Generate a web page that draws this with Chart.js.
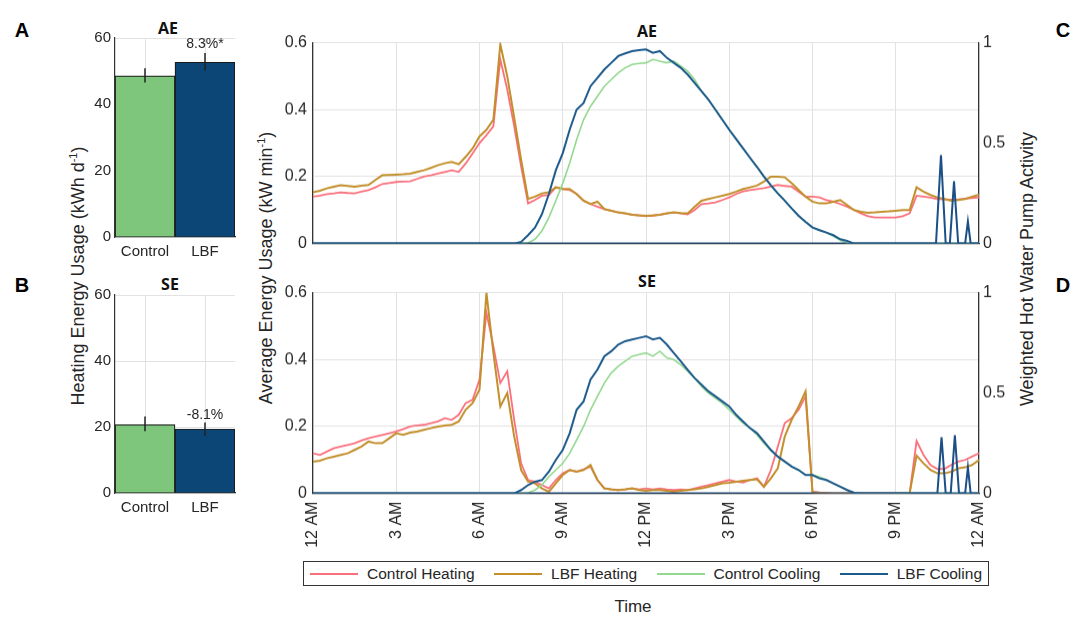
<!DOCTYPE html>
<html>
<head>
<meta charset="utf-8">
<script src="https://cdn.jsdelivr.net/npm/chart.js@4.4.0/dist/chart.umd.min.js"></script>
<style>
  body { margin: 0; background: #fff; width: 1072px; height: 619px; position: relative; overflow: hidden;
         font-family: 'Liberation Sans', Arial, sans-serif; color: #262626; }
  canvas { position: absolute; }
  .txt { position: absolute; white-space: nowrap; transform: translate(-50%, -50%); }
  .letter { font-size: 20px; font-weight: bold; color: #000; }
  .ttl { font-family: 'Open Sans', sans-serif; font-weight: bold; font-size: 16px; color: #111; }
  .vlab { font-size: 18px; transform: translate(-50%, -50%) rotate(-90deg); }
  .vlab sup { font-size: 11px; }
  #legend { position: absolute; left: 303px; top: 561px; width: 686px; height: 25px; border: 1.5px solid #333;
            display: flex; align-items: center; justify-content: space-between; padding: 0 6px 0 6px;
            box-sizing: border-box; font-size: 15.5px; }
  #legend .item { display: flex; align-items: center; }
  #legend .swatch { width: 48px; height: 0; border-top: 2px solid; margin-right: 9px; }
</style>
</head>
<body>
<div class="txt letter" style="left:22px;top:30px">A</div>
<div class="txt letter" style="left:22px;top:285px">B</div>
<div class="txt letter" style="left:1063px;top:30px">C</div>
<div class="txt letter" style="left:1063px;top:285px">D</div>
<div class="txt ttl" style="left:168px;top:28px">AE</div>
<div class="txt ttl" style="left:170px;top:284px">SE</div>
<div class="txt ttl" style="left:647px;top:31px">AE</div>
<div class="txt ttl" style="left:647px;top:281px">SE</div>
<div class="txt vlab" style="left:78px;top:276px">Heating Energy Usage (kWh d<sup>-1</sup>)</div>
<div class="txt vlab" style="left:266px;top:268px">Average Energy Usage (kW min<sup>-1</sup>)</div>
<div class="txt vlab" style="left:1027px;top:269px">Weighted Hot Water Pump Activity</div>
<div class="txt" style="left:633px;top:607px;font-size:17px">Time</div>

<canvas id="barAE" width="165" height="231" style="left:75px;top:28px"></canvas>
<canvas id="barSE" width="165" height="230" style="left:75px;top:285px"></canvas>
<canvas id="lineAE" width="752" height="220" style="left:270px;top:33px"></canvas>
<canvas id="lineSE" width="752" height="270" style="left:270px;top:283px"></canvas>
<div id="legend"></div>

<script>
// ---- bar panels (A, B) ----
const barCats = ['Control', 'LBF'];
const barTicks = [0, 20, 40, 60];

const aeBars = [48.6, 52.7];
const aeErrLow = [46.6, 50.2];
const aeErrHigh = [50.9, 55.5];
const aeNote = '8.3%*';
const aeNoteAt = 58;

const seBars = [20.7, 19.4];
const seErrLow = [18.7, 17.3];
const seErrHigh = [23.2, 21.4];
const seNote = '-8.1%';
const seNoteAt = 23.7;

// ---- line panels (C, D) ----
const hours = [];
for (let i = 0; i <= 96; i++) hours.push(i / 4);   // 15 minute steps

const tickHours = [0, 3, 6, 9, 12, 15, 18, 21, 24];
const tickLabels = ['12 AM', '3 AM', '6 AM', '9 AM', '12 PM', '3 PM', '6 PM', '9 PM', '12 AM'];
const energyTicks = [0, 0.2, 0.4, 0.6];
const energyTickLabels = ['0', '0.2', '0.4', '0.6'];
const pumpTicks = [0, 0.5, 1];
const pumpTickLabels = ['0', '0.5', '1'];

const seriesNames = ['Control Heating', 'LBF Heating', 'Control Cooling', 'LBF Cooling'];
const seriesColors = ['#fa6f7b', '#c28f2b', '#93d88f', '#1d5a8c'];

const aeCtrlHeat = [
  .140,.143,.148,.150, .153,.151,.150,.155, .160,.168,.178,.181, .184,.185,.186,.193,
  .200,.204,.209,.214, .219,.214,.239,.269, .300,.324,.350,.550, .460,.350,.230,.120,
  .130,.143,.145,.168, .163,.160,.148,.128, .118,.110,.103,.098, .093,.090,.086,.084,
  .082,.083,.086,.090, .093,.090,.087,.100, .118,.120,.123,.130, .138,.148,.156,.160,
  .163,.166,.170,.175, .172,.170,.155,.140, .140,.138,.130,.125, .118,.110,.100,.090,
  .082,.078,.078,.078, .078,.082,.090,.143, .140,.137,.133,.132, .131,.132,.134,.136, .138];
const aeLbfHeat = [
  .153,.158,.165,.170, .174,.172,.170,.173, .175,.190,.204,.205, .206,.207,.209,.214,
  .219,.226,.234,.240, .244,.237,.259,.284, .320,.340,.370,.595, .500,.376,.250,.133,
  .140,.150,.153,.168, .163,.163,.148,.128, .118,.125,.103,.098, .093,.090,.086,.084,
  .083,.084,.086,.090, .093,.091,.090,.110, .128,.133,.138,.143, .148,.155,.163,.168,
  .173,.185,.200,.200, .198,.180,.160,.140, .125,.120,.120,.125, .130,.115,.100,.095,
  .092,.093,.095,.096, .098,.100,.100,.168, .155,.145,.138,.133, .128,.130,.133,.140, .146];
const aeCtrlCool = [
  0,0,0,0, 0,0,0,0, 0,0,0,0, 0,0,0,0, 0,0,0,0, 0,0,0,0, 0,0,0,0, 0,0,0,.002,
  .013,.038,.078,.128, .180,.240,.310,.370, .410,.440,.470,.490, .510,.525,.535,.538,
  .540,.550,.545,.540, .545,.530,.515,.490, .455,.430,.400,.370, .340,.312,.284,.256,
  .229,.200,.174,.150, .128,.105,.083,.065, .048,.040,.033,.022, .010,0,0,0,
  0,0,0,0, 0,0,0,0, 0,0,0,0, 0,0,0,0, 0];
const aeLbfCool = [
  0,0,0,0, 0,0,0,0, 0,0,0,0, 0,0,0,0, 0,0,0,0, 0,0,0,0, 0,0,0,0, 0,0,.005,.025,
  .048,.088,.148,.219, .270,.340,.400,.420, .470,.495,.520,.540, .560,.568,.575,.578,
  .580,.570,.575,.555, .540,.525,.505,.480, .455,.430,.400,.370, .340,.312,.284,.256,
  .229,.200,.174,.150, .128,.105,.083,.065, .048,.040,.033,.025, .013,.008,0,0,
  0,0,0,0, 0,0,0,0, 0,0,0,0, 0,0,0,0, 0];
const aePumpHours = [0, 22.45, 22.63, 22.8, 22.95, 23.1, 23.25, 23.5, 23.6, 23.7, 24];
const aePump = [0, 0, 0.44, 0, 0, 0.31, 0, 0, 0.11, 0, 0];

const seCtrlHeat = [
  .120,.115,.125,.135, .140,.145,.150,.158, .165,.170,.175,.180, .185,.192,.200,.203,
  .205,.210,.215,.225, .220,.235,.270,.280, .340,.540,.440,.330, .365,.220,.090,.040,
  .035,.025,.015,.040, .060,.070,.065,.072, .080,.040,.015,.012, .010,.012,.015,.012,
  .015,.012,.015,.012, .010,.012,.010,.015, .020,.025,.030,.035, .040,.035,.032,.040,
  .045,.020,.070,.140, .210,.225,.250,.290, .005,.003,.002,0, 0,0,0,0,
  0,0,0,0, 0,0,0,.157, .115,.085,.073,.073, .085,.095,.100,.110, .120];
const seLbfHeat = [
  .095,.098,.105,.110, .115,.120,.130,.140, .155,.150,.150,.165, .180,.175,.182,.185,
  .190,.195,.200,.203, .205,.215,.250,.270, .310,.600,.420,.260, .300,.170,.070,.035,
  .030,.015,.005,.030, .055,.070,.065,.070, .085,.040,.015,.012, .010,.012,.015,.010,
  .008,.010,.010,.008, .005,.008,.010,.012, .015,.020,.025,.030, .032,.035,.038,.040,
  .042,.020,.045,.075, .170,.220,.260,.305, .003,.002,0,0, 0,0,0,0,
  0,0,0,0, 0,0,0,.113, .090,.070,.060,.060, .065,.075,.078,.085, .100];
const seCtrlCool = [
  0,0,0,0, 0,0,0,0, 0,0,0,0, 0,0,0,0, 0,0,0,0, 0,0,0,0, 0,0,0,0, 0,0,0,.002,
  .010,.025,.050,.070, .090,.120,.160,.200, .250,.290,.330,.360, .380,.395,.410,.415,
  .420,.410,.425,.405, .400,.385,.365,.345, .320,.300,.285,.270, .250,.230,.210,.195,
  .175,.150,.128,.110, .095,.080,.070,.055, .055,.050,.040,.030, .020,.010,.002,0,
  0,0,0,0, 0,0,0,0, 0,0,0,0, 0,0,0,0, 0];
const seLbfCool = [
  0,0,0,0, 0,0,0,0, 0,0,0,0, 0,0,0,0, 0,0,0,0, 0,0,0,0, 0,0,0,0, 0,0,.010,.025,
  .035,.040,.065,.100, .130,.180,.250,.275, .340,.370,.410,.425, .445,.455,.460,.465,
  .470,.460,.465,.445, .420,.395,.370,.345, .325,.305,.290,.275, .260,.235,.215,.195,
  .180,.155,.130,.110, .095,.080,.070,.055, .055,.045,.040,.030, .020,.010,.002,0,
  0,0,0,0, 0,0,0,0, 0,0,0,0, 0,0,0,0, 0];
const sePumpHours = [0, 22.5, 22.65, 22.8, 22.98, 23.13, 23.28, 23.5, 23.6, 23.7, 24];
const sePump = [0, 0, 0.28, 0, 0, 0.29, 0, 0, 0.13, 0, 0];

const gridCol = '#e2e2e2';
const axisCol = '#333';
const fontFamily = "'Liberation Sans', Arial, sans-serif";
const tickFont = { family: fontFamily, size: 16 };
const barFont = { family: fontFamily, size: 15 };
const tickCol = '#262626';

Chart.defaults.font.family = fontFamily;

const errorBars = (low, high, note, noteAt) => ({
  id: 'errbars',
  afterDatasetsDraw(chart) {
    const ctx = chart.ctx, xs = chart.scales.x, ys = chart.scales.y;
    ctx.save();
    ctx.strokeStyle = '#222';
    ctx.lineWidth = 1.5;
    low.forEach((lo, i) => {
      const x = xs.getPixelForValue(i);
      ctx.beginPath();
      ctx.moveTo(x, ys.getPixelForValue(lo));
      ctx.lineTo(x, ys.getPixelForValue(high[i]));
      ctx.stroke();
    });
    ctx.fillStyle = tickCol;
    ctx.font = '14px ' + fontFamily;
    ctx.textAlign = 'center';
    ctx.textBaseline = 'middle';
    ctx.fillText(note, xs.getPixelForValue(1), ys.getPixelForValue(noteAt));
    ctx.restore();
  }
});

// move / resize the canvas until the plot area sits where the figure has it
const fitArea = (chart, target) => {
  const el = chart.canvas;
  for (let k = 0; k < 4; k++) {
    const a = chart.chartArea;
    const left = parseFloat(el.style.left), top = parseFloat(el.style.top);
    const dw = (target[2] - target[0]) - (a.right - a.left);
    const dh = (target[3] - target[1]) - (a.bottom - a.top);
    el.style.left = (target[0] - a.left) + 'px';
    el.style.top = (target[1] - a.top) + 'px';
    if (Math.abs(dw) < 0.1 && Math.abs(dh) < 0.1) break;
    chart.resize(chart.width + dw, chart.height + dh);
  }
};

const makeBar = (id, values, low, high, note, noteAt, target) => {
  const chart = new Chart(document.getElementById(id), {
    type: 'bar',
    data: {
      labels: barCats,
      datasets: [{
        data: values,
        backgroundColor: ['#7dc67b', '#0b4677'],
        borderColor: '#1a1a1a',
        borderWidth: 1.2,
        barPercentage: 1,
        categoryPercentage: 1
      }]
    },
    options: {
      responsive: false,
      maintainAspectRatio: false,
      animation: false,
      layout: { padding: { top: 10, right: 5, left: 0, bottom: 0 } },
      plugins: { legend: { display: false }, tooltip: { enabled: false } },
      scales: {
        x: {
          grid: { offset: false, color: gridCol, drawTicks: false },
          border: { color: axisCol, width: 1.2 },
          ticks: { font: barFont, color: tickCol, padding: 6 },
          afterFit: s => { s.height = 22; }
        },
        y: {
          min: 0, max: 60,
          afterBuildTicks: s => { s.ticks = barTicks.map(v => ({ value: v })); },
          grid: { color: gridCol, drawTicks: false },
          border: { color: axisCol, width: 1.2 },
          ticks: { font: barFont, color: tickCol, padding: 4 },
          afterFit: s => { s.width = 40; }
        }
      }
    },
    plugins: [errorBars(low, high, note, noteAt)]
  });
  fitArea(chart, target);
};

const series = (vals, i, width, order) => ({
  label: seriesNames[i],
  data: hours.map((h, k) => ({ x: h, y: vals[k] })),
  borderColor: seriesColors[i],
  borderWidth: width,
  pointRadius: 0,
  tension: 0,
  order: order,
  yAxisID: 'y'
});

const makeLine = (id, ctrlHeat, lbfHeat, ctrlCool, lbfCool, pumpHours, pump, showX, target) => {
  const chart = new Chart(document.getElementById(id), {
    type: 'line',
    data: {
      datasets: [
        series(ctrlHeat, 0, 1.8, 5),
        series(lbfHeat, 1, 2, 4),
        series(ctrlCool, 2, 1.6, 3),
        series(lbfCool, 3, 2, 2),
        {
          label: 'Pump',
          data: pumpHours.map((h, k) => ({ x: h, y: pump[k] })),
          borderColor: '#1b4f86',
          borderWidth: 2,
          pointRadius: 0,
          tension: 0,
          order: 1,
          yAxisID: 'y2'
        }
      ]
    },
    options: {
      responsive: false,
      maintainAspectRatio: false,
      animation: false,
      layout: { padding: { top: 10, left: 0, right: 0, bottom: 0 } },
      plugins: { legend: { display: false }, tooltip: { enabled: false } },
      scales: {
        x: {
          type: 'linear', min: 0, max: 24,
          afterBuildTicks: s => { s.ticks = tickHours.map(v => ({ value: v })); },
          grid: { color: gridCol, drawTicks: false },
          border: { color: axisCol, width: 1.2 },
          ticks: {
            display: showX, font: tickFont, color: tickCol, padding: 8,
            minRotation: 90, maxRotation: 90,
            callback: (v, i) => tickLabels[i]
          },
          afterFit: s => { s.height = showX ? 60 : 10; }
        },
        y: {
          position: 'left', min: 0, max: 0.6,
          afterBuildTicks: s => { s.ticks = energyTicks.map(v => ({ value: v })); },
          grid: { color: gridCol, drawTicks: false },
          border: { color: axisCol, width: 1.2 },
          ticks: { font: tickFont, color: tickCol, padding: 6, callback: (v, i) => energyTickLabels[i] },
          afterFit: s => { s.width = 43; }
        },
        y2: {
          position: 'right', min: 0, max: 1,
          afterBuildTicks: s => { s.ticks = pumpTicks.map(v => ({ value: v })); },
          grid: { drawOnChartArea: false, drawTicks: false },
          border: { color: axisCol, width: 1.2 },
          ticks: { font: tickFont, color: tickCol, padding: 4, callback: (v, i) => pumpTickLabels[i] },
          afterFit: s => { s.width = 43; }
        }
      }
    }
  });
  fitArea(chart, target);
};

// plot areas as [left, top, right, bottom] on the page
makeBar('barAE', aeBars, aeErrLow, aeErrHigh, aeNote, aeNoteAt, [115, 38, 235, 237]);
makeBar('barSE', seBars, seErrLow, seErrHigh, seNote, seNoteAt, [115, 295, 235, 493]);
makeLine('lineAE', aeCtrlHeat, aeLbfHeat, aeCtrlCool, aeLbfCool, aePumpHours, aePump, false, [313, 43, 979, 243]);
makeLine('lineSE', seCtrlHeat, seLbfHeat, seCtrlCool, seLbfCool, sePumpHours, sePump, true, [313, 293, 979, 493]);

// legend
const legend = document.getElementById('legend');
seriesNames.forEach((name, i) => {
  const item = document.createElement('div');
  item.className = 'item';
  item.innerHTML = `<span class="swatch" style="border-color:${seriesColors[i]}"></span>${name}`;
  legend.appendChild(item);
});
</script>
</body>
</html>
